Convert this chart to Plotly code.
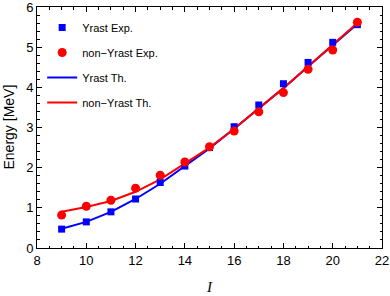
import plotly.graph_objects as go

spin = [9, 10, 11, 12, 13, 14, 15, 16, 17, 18, 19, 20, 21]
yrast_exp = [0.47, 0.65, 0.90, 1.22, 1.63, 2.04, 2.50, 3.02, 3.56, 4.09, 4.62, 5.12, 5.56]
nonyrast_exp = [0.82, 1.04, 1.19, 1.49, 1.81, 2.14, 2.52, 2.91, 3.39, 3.87, 4.45, 4.93, 5.62]
yrast_th = [0.48, 0.65, 0.90, 1.22, 1.60, 2.04, 2.48, 2.97, 3.47, 3.98, 4.52, 5.05, 5.58]
nonyrast_th = [0.90, 1.02, 1.17, 1.40, 1.71, 2.10, 2.50, 2.97, 3.47, 3.98, 4.52, 5.05, 5.60]
x_ticks = [8, 10, 12, 14, 16, 18, 20, 22]
y_ticks = [0, 1, 2, 3, 4, 5, 6]

BLUE = "#0000ff"
RED = "#ff0000"

fig = go.Figure()
fig.add_trace(go.Scatter(x=spin, y=yrast_th, mode="lines", name="Yrast Th.",
                         line=dict(color=BLUE, width=2), legendrank=3, legendgroup="c"))
fig.add_trace(go.Scatter(x=spin, y=nonyrast_th, mode="lines", name="non\u2212Yrast Th.",
                         line=dict(color=RED, width=2), legendrank=4, legendgroup="d"))
fig.add_trace(go.Scatter(x=spin, y=yrast_exp, mode="markers", name="Yrast Exp.",
                         marker=dict(symbol="square", color=BLUE, size=7), legendrank=1, legendgroup="a"))
fig.add_trace(go.Scatter(x=spin, y=nonyrast_exp, mode="markers", name="non\u2212Yrast Exp.",
                         marker=dict(symbol="circle", color=RED, size=9), legendrank=2, legendgroup="b"))

axis_common = dict(
    showline=True, linecolor="black", linewidth=1, mirror="allticks",
    ticks="inside", ticklen=5, tickcolor="black", tickwidth=1,
    showgrid=False, zeroline=False, automargin=False,
    ticklabeloverflow="allow", tickmode="array",
    tickfont=dict(family="Liberation Sans, Arial", size=13, color="black"),
)

fig.update_xaxes(range=[8, 22], tickvals=x_ticks,
                 minor=dict(ticks="inside", ticklen=2.5, dtick=0.5, tick0=8, tickcolor="black", showgrid=False),
                 **axis_common)
fig.update_yaxes(range=[0, 6], tickvals=y_ticks,
                 minor=dict(ticks="inside", ticklen=2.5, dtick=0.2, tick0=0, tickcolor="black", showgrid=False),
                 **axis_common)

fig.add_annotation(text="<i>I</i>", xref="paper", yref="paper", x=0.5, y=-39 / 241,
                   xanchor="center", yanchor="middle", showarrow=False,
                   font=dict(family="Liberation Serif, Times New Roman", size=15, color="black"))
fig.add_annotation(text="Energy [MeV]", xref="paper", yref="paper", x=-29 / 345, y=0.5,
                   xanchor="center", yanchor="middle", showarrow=False, textangle=-90,
                   font=dict(family="Liberation Sans, Arial", size=14, color="black"))

fig.update_layout(
    width=390, height=296,
    margin=dict(l=37, r=8, t=7, b=48),
    paper_bgcolor="white", plot_bgcolor="white",
    legend=dict(x=0.015, y=0.975, xanchor="left", yanchor="top",
                bgcolor="rgba(0,0,0,0)", font=dict(family="Liberation Sans, Arial", size=11, color="black"),
                tracegroupgap=6, itemwidth=30),
)

fig.write_html("out.html", config={"displayModeBar": False},
               post_script="document.body.style.margin='0';document.body.style.padding='0';")
